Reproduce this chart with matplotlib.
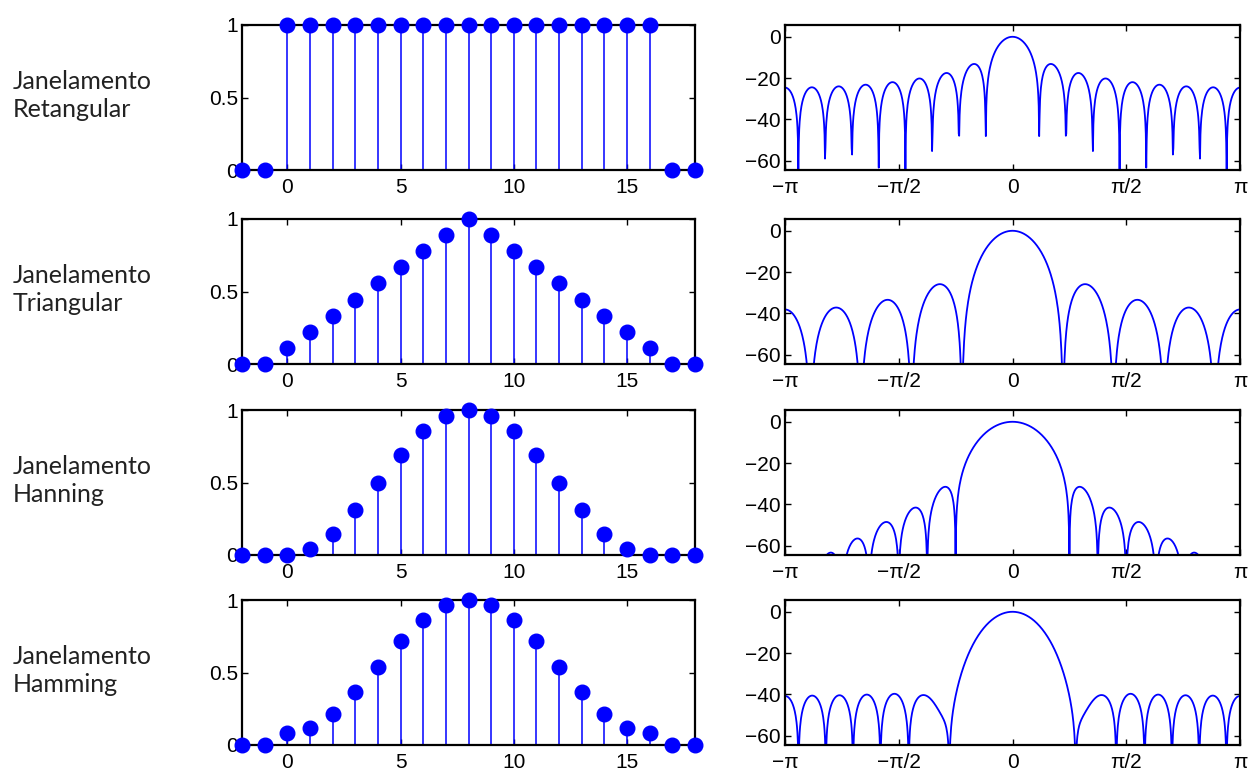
import numpy as np
import matplotlib
matplotlib.use("Agg")
import matplotlib.pyplot as plt

# amostras n = -2 .. 18 (janela de 17 pontos em n = 0..16)
n = np.arange(-2, 19)

# valores (n = 0..16), zeros fora da janela
retangular = [1.0] * 17
triangular = [0.111, 0.222, 0.333, 0.444, 0.556, 0.667, 0.778, 0.889, 1.0,
              0.889, 0.778, 0.667, 0.556, 0.444, 0.333, 0.222, 0.111]
hanning = [0.0, 0.038, 0.146, 0.309, 0.5, 0.691, 0.854, 0.962, 1.0,
           0.962, 0.854, 0.691, 0.5, 0.309, 0.146, 0.038, 0.0]
hamming = [0.08, 0.115, 0.215, 0.364, 0.54, 0.716, 0.865, 0.965, 1.0,
           0.965, 0.865, 0.716, 0.54, 0.364, 0.215, 0.115, 0.08]

janelas = [retangular, triangular, hanning, hamming]
nomes = ["Janelamento\nRetangular", "Janelamento\nTriangular",
         "Janelamento\nHanning", "Janelamento\nHamming"]

xticks_esq = [0, 5, 10, 15]
yticks_esq = [0, 0.5, 1]
xticks_dir = [-np.pi, -np.pi / 2, 0, np.pi / 2, np.pi]
xlabels_dir = ["\u2212\u03c0", "\u2212\u03c0/2", "0", "\u03c0/2", "\u03c0"]
yticks_dir = [0, -20, -40, -60]
ylabels_dir = ["0", "\u221220", "\u221240", "\u221260"]

plt.rcParams['font.family'] = ['Liberation Sans', 'DejaVu Sans']

fig = plt.figure(figsize=(12.56, 7.76), dpi=100)
W, H = 1256, 776
topos = [25, 219, 410, 600]
altura = 145
azul = '#0000ff'

nfft = 1024

for i, w in enumerate(janelas):
    top = topos[i]
    bottom = 1 - (top + altura) / H

    # --- janela no tempo ---
    ax = fig.add_axes([242 / W, bottom, 453 / W, altura / H])
    x = np.zeros(len(n))
    x[2:19] = w
    ml, sl, bl = ax.stem(n, x, linefmt='-', markerfmt='o', basefmt=' ')
    plt.setp(sl, color=azul, linewidth=1.1)
    plt.setp(ml, color=azul, markersize=10.5, clip_on=False, zorder=5)
    ax.set_xlim(-2, 18)
    ax.set_ylim(0, 1)
    ax.set_xticks(xticks_esq)
    ax.set_yticks(yticks_esq)
    ax.set_yticklabels(["0", "0.5", "1"])

    # --- espectro em dB ---
    ax2 = fig.add_axes([785 / W, bottom, 455 / W, altura / H])
    X = np.fft.fftshift(np.fft.fft(np.array(w), nfft))
    om = np.fft.fftshift(np.fft.fftfreq(nfft)) * 2 * np.pi
    om = np.append(om, np.pi)
    X = np.append(X, X[0])
    mag = np.abs(X)
    db = 20 * np.log10(np.maximum(mag / mag.max(), 1e-8))
    ax2.plot(om, db, color=azul, linewidth=1.3)
    ax2.set_xlim(-np.pi, np.pi)
    ax2.set_ylim(-64.5, 5.7)
    ax2.set_xticks(xticks_dir)
    ax2.set_xticklabels(xlabels_dir)
    ax2.set_yticks(yticks_dir)
    ax2.set_yticklabels(ylabels_dir)

    for a in (ax, ax2):
        a.tick_params(direction='in', top=True, right=True, length=4,
                      width=1, labelsize=15, pad=3)
        a.tick_params(axis='x', pad=6)
        for s in a.spines.values():
            s.set_linewidth(1.6)

    fig.text(13 / W, 1 - (top + altura / 2 - 2) / H, nomes[i],
             fontsize=18, family=['Lato', 'DejaVu Sans'], va='center',
             ha='left', linespacing=1.25, color='#222222')

plt.savefig("out.png", dpi=100)
